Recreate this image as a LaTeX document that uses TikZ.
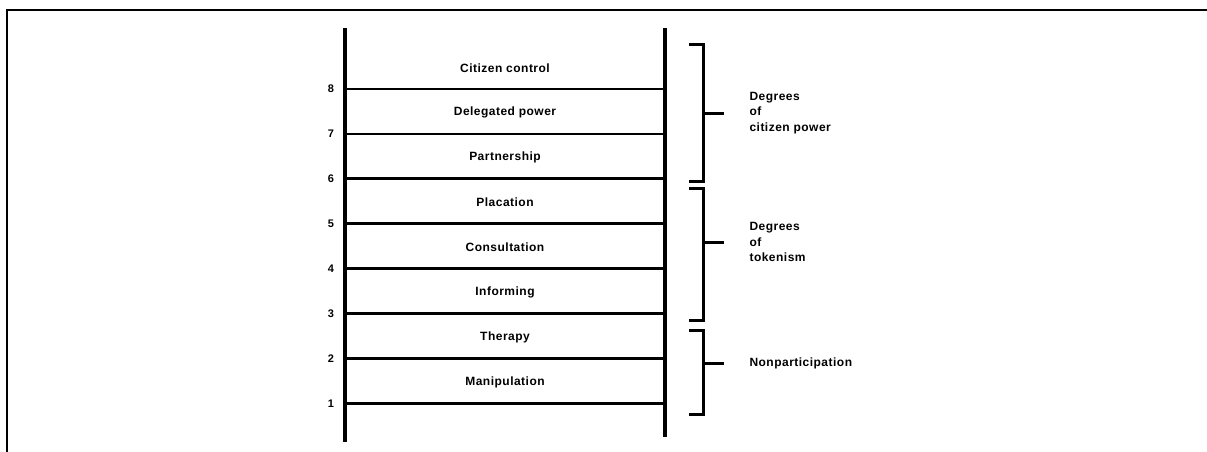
\documentclass[tikz,border=0pt]{standalone}
\usepackage{fontspec}
\setmainfont{Liberation Sans}[LetterSpace=4]
\usetikzlibrary{positioning}

\begin{document}
\begin{tikzpicture}[x=1pt, y=-1pt,
    rail/.style={line width=3.2pt},
    rung/.style={line width=2.7pt},
    brk/.style={line width=3pt},
    txt/.style={font=\bfseries\fontsize{12}{15.5}\selectfont},
    num/.style={font=\bfseries\fontsize{11}{12}\selectfont}
  ]
  \useasboundingbox (0,0) rectangle (1207,451);
  % frame
  \draw[line width=2.6pt] (1207,10) -- (7,10) -- (7,452);
  % rails
  \coordinate (LT) at (345,28); \coordinate (LB) at (345,442);
  \coordinate (RT) at (665,28); \coordinate (RB) at (665,437);
  \draw[rail] (LT) -- (LB);
  \draw[rail] (RT) -- (RB);
  % rungs and steps
  \foreach \k/\t [evaluate=\k as \y using 89+(8-\k)*44.9] in
    {8/Citizen control, 7/Delegated power, 6/Partnership, 5/Placation,
     4/Consultation, 3/Informing, 2/Therapy, 1/Manipulation} {
    \node[num] (n\k) at (331,\y) {\k};
    \draw[rung] (LT|-n\k) -- (RT|-n\k);
    \node[txt] (s\k) at (505,\y-21) {\t};
  }
  % brackets
  \foreach \i/\a/\b/\m in {1/44/181/113, 2/188/320/242, 3/330/414/363} {
    \draw[brk] (689,\a) -- (703,\a) -- (703,\b) -- (689,\b);
    \draw[brk] (702,\m) -- (724,\m) coordinate (b\i);
  }
  \node[txt, align=left, right=22pt of b1] (g1) {Degrees\\of\\citizen power};
  \node[txt, align=left, right=22pt of b2] (g2) {Degrees\\of\\tokenism};
  \node[txt, align=left, right=22pt of b3] (g3) {Nonparticipation};
\end{tikzpicture}
\end{document}
